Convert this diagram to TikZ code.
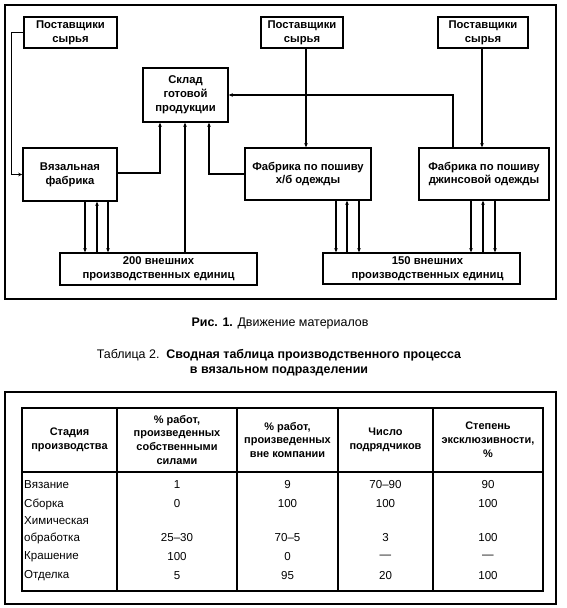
\documentclass[tikz,border=0pt]{standalone}
\usepackage{fontspec}
\setmainfont{Liberation Sans}
\usetikzlibrary{arrows.meta}
\begin{document}
\begin{tikzpicture}[x=1bp,y=-1bp,
  box/.style={draw, line width=1.5bp, align=center, inner sep=0pt,
    font=\bfseries\fontsize{11.3}{14}\selectfont},
  link/.style={line width=1.1bp, -{Stealth[length=4bp,width=3.5bp]}},
  thicklink/.style={link, line width=1.8bp},
  frame/.style={line width=2bp},
  hdr/.style={align=center, inner sep=0pt, font=\bfseries\fontsize{11}{14}\selectfont},
  cell/.style={inner sep=0pt, font=\fontsize{11.6}{13}\selectfont},
  grid/.style={line width=1.5bp}]
\useasboundingbox (0,0) rectangle (567,608);
% ---- figure frame
\draw[frame] (5,5) rectangle (556,299);
% ---- boxes
\node[box, minimum width=93bp, minimum height=31bp] (sup1) at (70.5,32.5) {Поставщики\\сырья};
\node[box, minimum width=82bp, minimum height=31bp] (sup2) at (302,32.5) {Поставщики\\сырья};
\node[box, minimum width=90bp, minimum height=31bp] (sup3) at (483,32.5) {Поставщики\\сырья};
\node[box, minimum width=85bp, minimum height=54bp] (sklad) at (185.5,95) {Склад\\готовой\\продукции};
\node[box, minimum width=94bp, minimum height=53bp] (knit) at (70,174.5) {Вязальная\\фабрика};
\node[box, minimum width=126bp, minimum height=52bp] (cotton) at (308,174) {Фабрика по пошиву\\х/б одежды};
\node[box, minimum width=130bp, minimum height=52bp] (jeans) at (484,174) {Фабрика по пошиву\\джинсовой одежды};
\node[box, minimum width=197bp, minimum height=32bp] (ext200) at (158.5,269) {200 внешних\\производственных единиц};
\node[box, minimum width=197bp, minimum height=31bp] (ext150) at (421.5,268.5) {\hspace*{12bp}150 внешних\\\hspace*{12bp}производственных единиц};
% ---- connectors
\draw[link] (sup1.west) -- ++(-12,0) |- (knit.west);
\draw[thicklink] ([yshift=1.5bp]knit.east) -| ([xshift=-25.5bp]sklad.south);
\draw[thicklink] ([xshift=-0.5bp]sklad.south |- ext200.north) -- ([xshift=-0.5bp]sklad.south);
\draw[link] (cotton.west) -| ([xshift=23.5bp]sklad.south);
\draw[link] ([xshift=4bp]sup2.south) -- ([xshift=4bp]sup2.south |- cotton.north);
\draw[link] ([xshift=-31bp]jeans.north) |- (sklad.east);
\draw[thicklink] ([xshift=-1bp]sup3.south) -- ([xshift=-1bp]sup3.south |- jeans.north);
% knit <-> ext200
\draw[thicklink] ([xshift=15bp]knit.south) -- ([xshift=15bp]knit.south |- ext200.north);
\draw[thicklink] ([xshift=27bp]knit.south |- ext200.north) -- ([xshift=27bp]knit.south);
\draw[thicklink] ([xshift=38bp]knit.south) -- ([xshift=38bp]knit.south |- ext200.north);
% cotton <-> ext150
\draw[link] ([xshift=28bp]cotton.south) -- ([xshift=28bp]cotton.south |- ext150.north);
\draw[link] ([xshift=39bp]cotton.south |- ext150.north) -- ([xshift=39bp]cotton.south);
\draw[link] ([xshift=51bp]cotton.south) -- ([xshift=51bp]cotton.south |- ext150.north);
% jeans <-> ext150
\draw[thicklink] ([xshift=-13bp]jeans.south) -- ([xshift=-13bp]jeans.south |- ext150.north);
\draw[thicklink] ([xshift=-1bp]jeans.south |- ext150.north) -- ([xshift=-1bp]jeans.south);
\draw[thicklink] ([xshift=11bp]jeans.south) -- ([xshift=11bp]jeans.south |- ext150.north);
% ---- caption
\node[font=\fontsize{12.5}{14}\selectfont, inner sep=0pt] (cap) at (280,324) {\textbf{Рис. 1.} Движение материалов};
% ---- table title
\node[align=center, inner sep=0pt, font=\fontsize{12.5}{15}\selectfont] (ttl) at (279,363)
  {Таблица 2.\ \ \textbf{Сводная таблица производственного процесса}\\\textbf{в вязальном подразделении}};
% ---- table frame
\draw[frame] (5,392) rectangle (556,604);
\draw[grid] (22,408) rectangle (543,591);
\draw[grid] (22,472) -- (543,472);
\foreach \x in {117,237,338,433} \draw[grid] (\x,408) -- (\x,591);
% header
\node[hdr] (h1) at (69.5,440) {Стадия\\производства};
\node[hdr] (h2) at (177,440) {\% работ,\\произведенных\\собственными\\силами};
\node[hdr] (h3) at (287.5,440) {\% работ,\\произведенных\\вне компании};
\node[hdr] (h4) at (385.5,440) {Число\\подрядчиков};
\node[hdr] (h5) at (488,440) {Степень\\эксклюзивности,\\\%};
% rows
\node[cell, anchor=west] (a1) at (24,485) {Вязание};
\node[cell] (b1) at (177,485) {1};
\node[cell] (c1) at (287.5,485) {9};
\node[cell] (d1) at (385.5,485) {70–90};
\node[cell] (e1) at (488,485) {90};
\node[cell, anchor=west] (a2) at (24,504) {Сборка};
\node[cell] (b2) at (177,504) {0};
\node[cell] (c2) at (287.5,504) {100};
\node[cell] (d2) at (385.5,504) {100};
\node[cell] (e2) at (488,504) {100};
\node[cell, anchor=west] (a3a) at (24,521) {Химическая};
\node[cell, anchor=west] (a3) at (24,538) {обработка};
\node[cell] (b3) at (177,538) {25–30};
\node[cell] (c3) at (287.5,538) {70–5};
\node[cell] (d3) at (385.5,538) {3};
\node[cell] (e3) at (488,538) {100};
\node[cell, anchor=west] (a4) at (24,557) {Крашение};
\node[cell] (b4) at (177,557) {100};
\node[cell] (c4) at (287.5,557) {0};
\node[cell] (d4) at (385.5,557) {—};
\node[cell] (e4) at (488,557) {—};
\node[cell, anchor=west] (a5) at (24,576) {Отделка};
\node[cell] (b5) at (177,576) {5};
\node[cell] (c5) at (287.5,576) {95};
\node[cell] (d5) at (385.5,576) {20};
\node[cell] (e5) at (488,576) {100};
\end{tikzpicture}
\end{document}
